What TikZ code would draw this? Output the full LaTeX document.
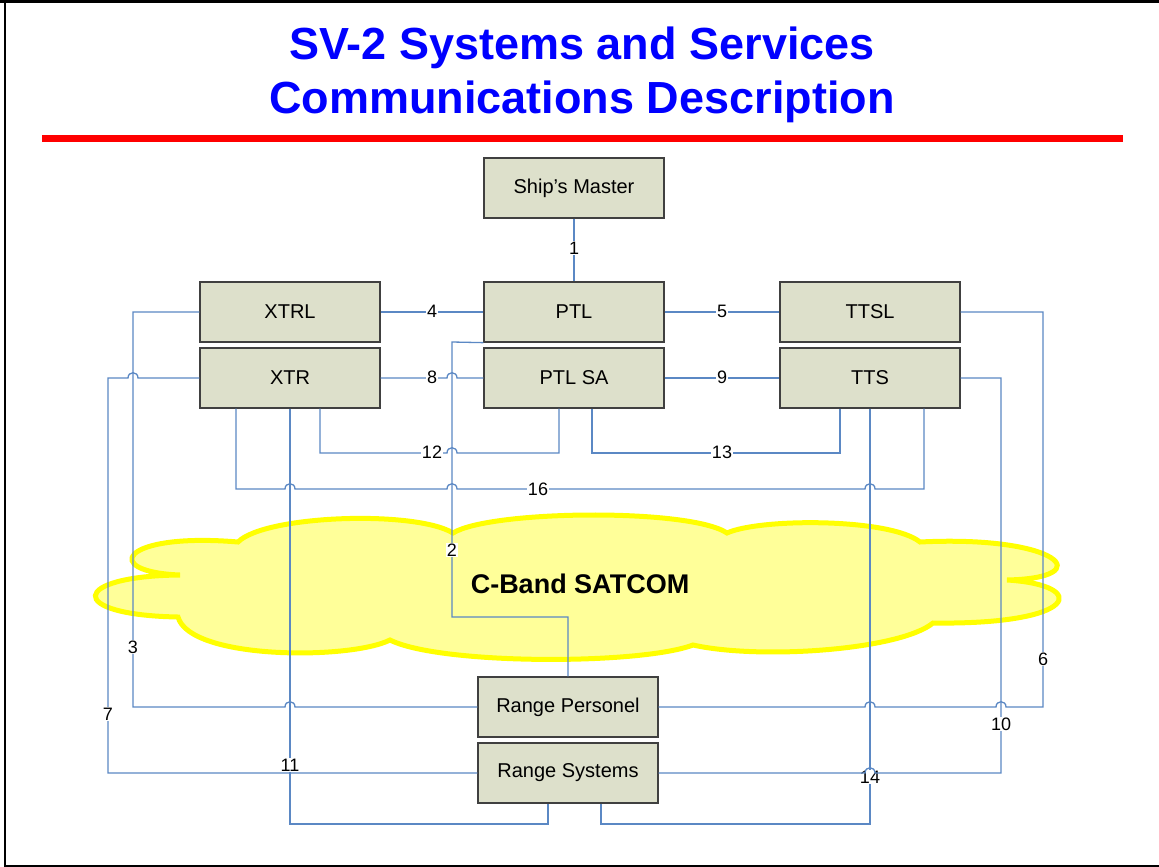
\documentclass[tikz,border=0pt]{standalone}
\usepackage{fontspec}
\setmainfont{Liberation Sans}
\definecolor{boxfill}{HTML}{DDE0CB}
\definecolor{connblue}{HTML}{5B88C4}
\definecolor{cloudfill}{HTML}{FFFF99}
\definecolor{cloudline}{HTML}{FFFF00}
\definecolor{titleblue}{HTML}{0000FF}
\newcommand{\hopr}[2]{-- ({#1-5},#2) .. controls ({#1-5},{#2-7}) and ({#1+5},{#2-7}) .. ({#1+5},#2)}
\newcommand{\hopl}[2]{-- ({#1+5},#2) .. controls ({#1+5},{#2-7}) and ({#1-5},{#2-7}) .. ({#1-5},#2)}
\begin{document}
\begin{tikzpicture}[x=1pt,y=-1pt,
  box/.style={draw=black!75, line width=1.3pt, fill=boxfill, minimum width=180pt, minimum height=60pt, inner sep=0pt, font=\fontsize{20}{24}\selectfont},
  conn/.style={draw=connblue, line width=1.3pt},
  lbl/.style={fill=white, inner sep=1pt, font=\fontsize{18}{20}\selectfont},
  ttl/.style={text=titleblue, font=\fontsize{45}{54}\selectfont\bfseries, inner sep=0pt}
]
\useasboundingbox (0,0) rectangle (1159,867);
\fill[white] (0,0) rectangle (1159,867);
% frame
\draw[line width=3pt] (0,2) -- (1159,2);
\draw[line width=2pt] (5,2) -- (5,866) -- (1159,866);
% title
\node[ttl] (t1) at (582,48) {SV-2 Systems and Services};
\node[ttl] (t2) at (582,102) {Communications Description};
\draw[red, line width=6.5pt] (42,138.5) -- (1123,138.5);
% cloud
\draw[draw=cloudline, fill=cloudfill, line width=5pt]
  (180,575) .. controls (100,572) and (120,532) .. (238,542)
  .. controls (265,515) and (415,510) .. (453,533)
  .. controls (490,510) and (690,508) .. (727,533)
  .. controls (760,518) and (890,518) .. (920,542)
  .. controls (1060,535) and (1100,578) .. (1007,580)
  .. controls (1090,585) and (1080,625) .. (933,623)
  .. controls (900,650) and (760,660) .. (693,645)
  .. controls (640,665) and (440,665) .. (390,640)
  .. controls (350,660) and (190,660) .. (178,617)
  .. controls (65,615) and (70,576) .. (180,575) -- cycle;
\node[font=\fontsize{27}{30}\selectfont\bfseries, inner sep=0pt] (ct) at (580,584) {C-Band SATCOM};
% boxes
\node[box] (sm) at (574,188) {Ship’s Master};
\node[box] (xtrl) at (290,312) {XTRL};
\node[box] (ptl) at (574,312) {PTL};
\node[box] (ttsl) at (870,312) {TTSL};
\node[box] (xtr) at (290,378) {XTR};
\node[box] (ptlsa) at (574,378) {PTL SA};
\node[box] (tts) at (870,378) {TTS};
\node[box] (rp) at (568,707) {Range Personel};
\node[box] (rs) at (568,773) {Range Systems};
% connectors
\draw[conn] (sm.south) -- (ptl.north);
\draw[conn] (xtrl.east) -- (ptl.west);
\draw[conn] (ptl.east) -- (ttsl.west);
\draw[conn] (xtr.east) \hopr{452}{378} -- (ptlsa.west);
\draw[conn] (ptlsa.east) -- (tts.west);
\draw[conn] ([xshift=30pt]xtr.south) -- (320,453) \hopr{452}{453} -- (559,453) -- ([xshift=-15pt]ptlsa.south);
\draw[conn] ([xshift=18pt]ptlsa.south) -- (592,453) -- (840,453) -- ([xshift=-30pt]tts.south);
\draw[conn] ([xshift=-54pt]xtr.south) -- (236,489) \hopr{290}{489} \hopr{452}{489} \hopr{870}{489} -- (924,489) -- ([xshift=54pt]tts.south);
\draw[conn] (ptl.south west) -- (452,342) -- (452,617) -| (rp.north);
\draw[conn] (xtrl.west) -- (133,312) -- (133,707) \hopr{290}{707} -- (rp.west);
\draw[conn] (xtr.west) \hopl{133}{378} -- (108,378) -- (108,773) -- (rs.west);
\draw[conn] (xtr.south) -- (290,824) -- (548,824) -- ([xshift=-20pt]rs.south);
\draw[conn] (tts.south) -- (870,824) -- (601,824) -- ([xshift=33pt]rs.south);
\draw[conn] (ttsl.east) -- (1043,312) -- (1043,707) \hopl{1001}{707} \hopl{870}{707} -- (rp.east);
% labels
\node[lbl] (l1) at (574,248) {1};
\node[lbl] (l4) at (432,311) {4};
\node[lbl] (l5) at (722,311) {5};
\node[lbl] (l8) at (432,377) {8};
\node[lbl] (l9) at (722,377) {9};
\node[lbl] (l12) at (432,452) {12};
\node[lbl] (l13) at (722,452) {13};
\node[lbl] (l16) at (538,489) {16};
\node[lbl] (l2) at (452,550) {2};
\node[lbl] (l3) at (133,647) {3};
\node[lbl] (l6) at (1043,659) {6};
\node[lbl] (l7) at (108,714) {7};
\node[lbl] (l11) at (290,765) {11};
\node[lbl] (l14) at (870,777) {14};
\draw[conn] (tts.east) -- (1001,378) -- (1001,773) \hopl{870}{773} -- (rs.east);
\node[lbl] (l10) at (1001,724) {10};
\end{tikzpicture}
\end{document}
